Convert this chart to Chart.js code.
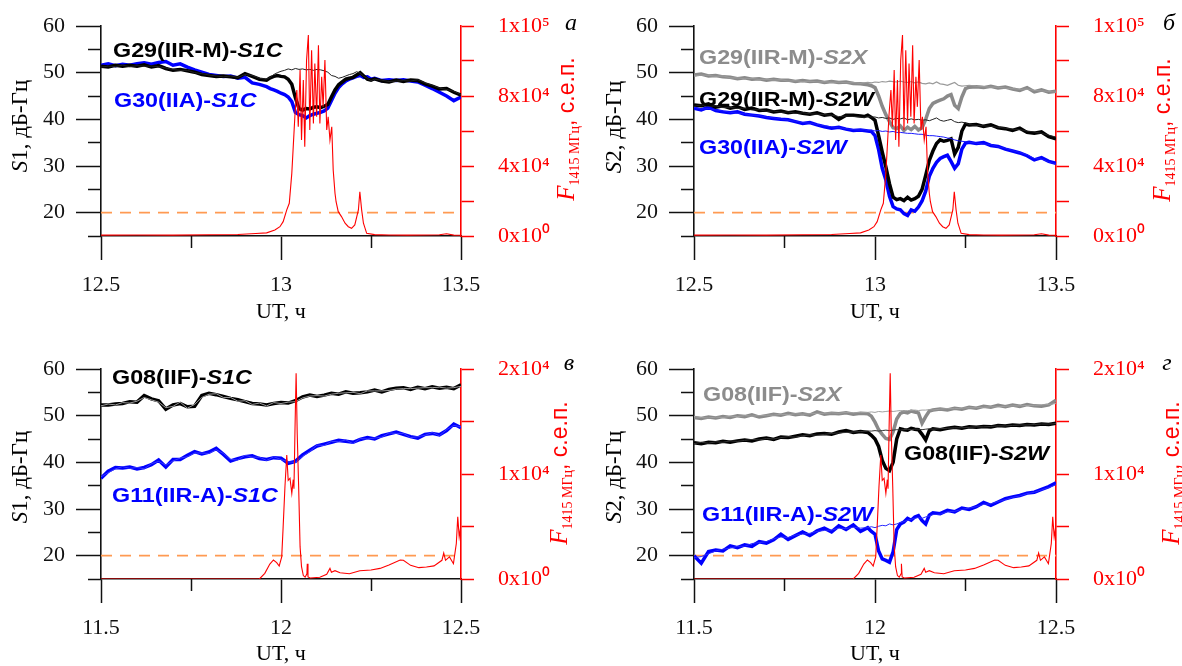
<!DOCTYPE html>
<html>
<head>
<meta charset="utf-8">
<script src="https://cdn.jsdelivr.net/npm/chart.js@4.4.0/dist/chart.umd.min.js"></script>
<style>
  html, body { margin: 0; padding: 0; background: #fff; }
  body { width: 1182px; height: 666px; position: relative; overflow: hidden; font-family: 'Liberation Serif', 'Times New Roman', serif; }
  canvas { position: absolute; }
  .t { position: absolute; white-space: nowrap; line-height: 1; }
  .ctr { transform: translate(-50%, -50%); font-size: 22px; color: #000; }
  .rot { transform: translate(-50%, -50%) rotate(-90deg); font-size: 23px; }
  .red { color: #ff0000; }
  .sans { font-family: 'Liberation Sans', Arial, sans-serif; }
  .sub { font-size: 14px; vertical-align: -5px; }
  .letter { font-style: italic; font-size: 24px; transform: translate(-50%, -50%); }
  .lbl { font: bold 21px 'Liberation Sans', Arial, sans-serif; transform-origin: 0 50%; transform: translateY(-50%) scaleX(1.11); }
  .blue { color: #0000ff; }
  .gray { color: #8c8c8c; }
</style>
</head>
<body>
<canvas id="pa" width="591" height="333" style="left:0;top:0"></canvas>
<canvas id="pb" width="591" height="333" style="left:591px;top:0"></canvas>
<canvas id="pc" width="591" height="333" style="left:0;top:333px"></canvas>
<canvas id="pd" width="591" height="333" style="left:591px;top:333px"></canvas>

<!-- panel a -->
<div class="t rot" style="left:19px;top:126px"><i>S</i>1, дБ-Гц</div>
<div class="t ctr" style="left:281px;top:311px">UT, ч</div>
<div class="t rot red" style="left:567px;top:129px"><i style="font-size:25px">F</i><span class="sub">1415 МГц</span><span class="sans">, с.е.п.</span></div>
<div class="t letter" style="left:571px;top:22px">а</div>
<div class="t lbl" style="left:113px;top:50px">G29(IIR-M)-<i>S1C</i></div>
<div class="t lbl blue" style="left:114px;top:100px">G30(IIA)-<i>S1C</i></div>

<!-- panel b -->
<div class="t rot" style="left:613px;top:127px"><i>S</i>2, дБ-Гц</div>
<div class="t ctr" style="left:875px;top:311px">UT, ч</div>
<div class="t rot red" style="left:1163px;top:130px"><i style="font-size:25px">F</i><span class="sub">1415 МГц</span><span class="sans">, с.е.п.</span></div>
<div class="t letter" style="left:1169px;top:22px">б</div>
<div class="t lbl gray" style="left:699px;top:57px">G29(IIR-M)-<i>S2X</i></div>
<div class="t lbl" style="left:699px;top:99px">G29(IIR-M)-<i>S2W</i></div>
<div class="t lbl blue" style="left:699px;top:147px">G30(IIA)-<i>S2W</i></div>

<!-- panel c -->
<div class="t rot" style="left:19px;top:477px"><i>S</i>1, дБ-Гц</div>
<div class="t ctr" style="left:281px;top:653px">UT, ч</div>
<div class="t rot red" style="left:560px;top:473px"><i style="font-size:25px">F</i><span class="sub">1415 МГц</span><span class="sans">, с.е.п.</span></div>
<div class="t letter" style="left:569px;top:362px">в</div>
<div class="t lbl" style="left:112px;top:377px">G08(IIF)-<i>S1C</i></div>
<div class="t lbl blue" style="left:112px;top:495px">G11(IIR-A)-<i>S1C</i></div>

<!-- panel d -->
<div class="t rot" style="left:613px;top:477px"><i>S</i>2, дБ-Гц</div>
<div class="t ctr" style="left:875px;top:653px">UT, ч</div>
<div class="t rot red" style="left:1172px;top:473px"><i style="font-size:25px">F</i><span class="sub">1415 МГц</span><span class="sans">, с.е.п.</span></div>
<div class="t letter" style="left:1167px;top:362px">г</div>
<div class="t lbl gray" style="left:703px;top:394px">G08(IIF)-<i>S2X</i></div>
<div class="t lbl" style="left:904px;top:453px">G08(IIF)-<i>S2W</i></div>
<div class="t lbl blue" style="left:702px;top:514px">G11(IIR-A)-<i>S2W</i></div>

<script>
// axis ticks
const yRange = [15, 60];
const yMajorTicks = [20, 30, 40, 50, 60];
const yMinorTicks = [15, 25, 35, 45, 55];
const xRangeAB = [12.5, 13.5];
const xMajorAB = [12.5, 13, 13.5];
const xMinorAB = [12.75, 13.25];
const xRangeCD = [11.5, 12.5];
const xMajorCD = [11.5, 12, 12.5];
const xMinorCD = [11.75, 12.25];
const fluxTicksAB = [0, 20000, 40000, 60000, 80000, 100000, 120000];
const fluxLabelsAB = ['0x10⁰', '', '4x10⁴', '', '8x10⁴', '', '1x10⁵'];
const fluxTicksCD = [0, 5000, 10000, 15000, 20000];
const fluxLabelsCD = ['0x10⁰', '', '1x10⁴', '', '2x10⁴'];
const thresholdLevel = 20;

// time grid, panels a and b (UT, h)
const timesAB = [12.50, 12.52, 12.54, 12.56, 12.58, 12.60, 12.62, 12.64, 12.66, 12.68, 12.70, 12.72, 12.74, 12.76, 12.78, 12.80, 12.82, 12.84, 12.86, 12.88, 12.90, 12.92, 12.94, 12.96,
  12.97, 12.98, 12.99, 13.00, 13.01, 13.02, 13.03, 13.04, 13.05, 13.06, 13.07, 13.08, 13.09, 13.10, 13.11, 13.12, 13.13, 13.14, 13.15, 13.16, 13.17, 13.18, 13.19, 13.20, 13.21, 13.22, 13.23, 13.24, 13.25, 13.26,
  13.28, 13.30, 13.32, 13.34, 13.36, 13.38, 13.40, 13.42, 13.44, 13.46, 13.48, 13.50];

// panel a: S1C
const s1cG29 = [51.4, 51.2, 51.6, 51.4, 51.6, 51.4, 51.7, 51.2, 51.5, 50.9, 50.5, 50.7, 50.4, 50.1, 49.6, 49.4, 49.2, 49.3, 49.1, 48.9, 49.8, 49.2, 48.6, 48.4,
  48.9, 49.2, 49.4, 49.2, 49.1, 48.6, 47.5, 44.6, 42.3, 42.0, 42.3, 42.2, 42.6, 42.7, 42.5, 42.8, 43.2, 44.8, 46.3, 47.4, 48.0, 48.6, 48.8, 49.0, 49.5, 50.0, 49.3, 48.6, 48.4, 48.7,
  48.2, 48.0, 48.4, 48.1, 48.4, 48.3, 47.6, 47.1, 46.5, 46.6, 45.8, 45.2];
const s1cG29ref = [51.2, 51.4, 51.3, 51.6, 51.3, 51.5, 51.4, 51.4, 51.3, 51.0, 50.7, 50.5, 50.5, 50.0, 49.8, 49.5, 49.3, 49.1, 49.3, 49.0, 49.6, 49.4, 48.8, 48.6,
  49.0, 49.6, 50.0, 50.3, 50.5, 50.8, 50.6, 50.9, 50.7, 50.8, 50.6, 50.7, 50.5, 50.7, 50.6, 50.4, 50.1, 49.4, 49.2, 48.8, 49.0, 49.3, 49.6, 49.8, 50.2, 49.9, 49.2, 48.8, 48.3, 48.6,
  48.4, 48.1, 48.2, 48.3, 48.2, 48.5, 47.8, 47.3, 46.7, 46.4, 46.0, 45.3];
const s1cG30 = [51.6, 51.9, 51.5, 51.8, 51.6, 51.9, 52.1, 51.8, 52.2, 52.4, 51.6, 51.9, 51.2, 50.6, 50.1, 49.6, 49.4, 49.2, 49.3, 48.8, 49.0, 47.8, 47.5, 47.0,
  46.6, 46.3, 46.0, 45.6, 45.3, 44.8, 43.8, 41.5, 41.0, 40.8, 40.3, 40.8, 41.1, 41.3, 41.5, 41.8, 42.4, 44.0, 45.6, 46.8, 47.6, 48.2, 48.6, 48.9, 49.2, 49.4, 49.0, 49.1, 48.6, 48.8,
  48.3, 48.5, 48.3, 48.5, 48.2, 48.0, 47.3, 46.6, 45.8, 45.0, 44.0, 44.8];

// panel b: S2X / S2W
const s2xG29 = [49.5, 49.7, 49.3, 49.4, 49.1, 49.0, 48.7, 48.9, 48.6, 48.7, 48.4, 48.6, 48.4, 48.4, 48.1, 48.3, 48.1, 48.2, 47.9, 48.1, 47.9, 48.0, 47.7, 47.6,
  47.5, 47.4, 47.2, 46.8, 45.0, 42.8, 41.0, 39.5, 38.2, 38.0, 38.6, 37.6, 38.3, 37.8, 38.5, 37.7, 38.2, 40.0, 42.3, 43.4, 43.8, 44.1, 44.4, 45.0, 45.3, 43.0, 42.3, 44.8, 46.6, 46.9,
  47.0, 46.8, 47.1, 46.7, 46.9, 46.5, 46.2, 46.8, 45.9, 46.3, 45.8, 46.0];
const s2xG29ref = [49.3, 49.5, 49.4, 49.2, 49.3, 48.9, 48.9, 48.7, 48.8, 48.5, 48.6, 48.4, 48.5, 48.2, 48.3, 48.1, 48.2, 48.0, 48.1, 47.9, 48.0, 47.8, 47.9, 47.7,
  47.8, 47.9, 47.8, 48.0, 47.9, 48.1, 48.0, 48.2, 48.1, 48.0, 48.2, 48.0, 47.9, 48.1, 47.8, 48.0, 47.7, 47.6, 47.8, 47.6, 48.0, 47.6, 47.5, 47.3, 47.6, 47.9, 47.3, 47.1, 47.2, 47.3,
  47.1, 47.0, 46.9, 46.9, 46.7, 46.6, 46.4, 46.5, 46.2, 46.1, 46.0, 45.8];
const s2wG29 = [43.1, 42.9, 43.3, 42.6, 42.9, 42.4, 42.7, 42.1, 42.4, 41.9, 42.0, 41.6, 41.8, 41.4, 41.6, 41.3, 41.1, 41.4, 40.9, 41.1, 40.0, 40.9, 40.9, 40.7,
  40.6, 40.9, 40.4, 39.8, 36.5, 33.0, 29.8, 26.2, 23.3, 22.8, 23.0, 22.6, 23.3, 22.7, 23.0, 23.5, 25.0, 28.0, 31.2, 33.2, 34.8, 35.6, 35.3, 35.5, 35.8, 32.6, 34.0, 37.5, 39.0, 38.8,
  38.9, 38.5, 38.8, 38.2, 38.0, 37.6, 38.1, 37.2, 37.0, 37.3, 36.3, 35.8];
const s2wG29ref = [42.8, 43.1, 42.8, 42.9, 42.5, 42.6, 42.3, 42.4, 42.0, 42.1, 41.7, 41.8, 41.5, 41.6, 41.3, 41.4, 41.2, 41.1, 41.0, 40.9, 40.6, 40.7, 40.6, 40.5,
  40.4, 40.6, 40.5, 40.5, 40.3, 40.4, 40.2, 40.3, 40.0, 40.2, 40.1, 40.3, 39.9, 40.1, 39.9, 40.0, 39.8, 39.9, 39.7, 40.0, 40.3, 39.8, 39.6, 39.8, 40.0, 39.5, 39.3, 39.4, 39.2, 38.9,
  38.7, 38.6, 38.5, 38.3, 38.1, 37.9, 37.8, 37.5, 37.3, 37.0, 36.6, 36.2];
const s2wG30 = [42.4, 42.0, 42.6, 41.9, 41.6, 41.4, 41.6, 41.1, 40.9, 40.7, 40.4, 40.2, 40.0, 39.9, 39.5, 39.1, 39.3, 38.8, 38.4, 38.1, 38.3, 37.9, 37.6, 37.7,
  37.6, 37.5, 37.4, 36.5, 33.5, 29.5, 27.0, 23.5, 21.3, 20.8, 20.6, 19.8, 19.4, 20.6, 20.3, 21.2, 22.5, 24.6, 27.8, 29.5, 30.8, 31.6, 32.0, 32.3, 31.0, 29.5, 30.5, 33.6, 34.9, 35.1,
  34.8, 35.0, 34.4, 34.2, 33.6, 33.2, 32.8, 32.2, 31.3, 31.8, 31.0, 30.6];
const s2wG30ref = [42.6, 42.2, 42.3, 42.0, 41.8, 41.5, 41.3, 41.2, 40.9, 40.8, 40.5, 40.3, 40.1, 39.8, 39.6, 39.3, 39.2, 38.9, 38.6, 38.4, 38.2, 38.0, 37.8, 37.7,
  37.8, 37.6, 37.7, 37.5, 37.6, 37.4, 37.5, 37.3, 37.4, 37.2, 37.2, 37.1, 37.0, 37.0, 36.9, 36.8, 36.8, 36.6, 36.5, 36.5, 36.4, 36.3, 36.2, 36.0, 35.9, 35.6, 35.4, 35.3, 35.2, 35.1,
  34.9, 34.7, 34.6, 34.1, 33.8, 33.3, 32.9, 32.4, 31.6, 31.5, 30.9, 30.4];

// radio flux 1415 MHz, panels a and b
const fluxTimesAB = [12.50, 12.60, 12.70, 12.80, 12.88, 12.93, 12.96, 12.983, 12.997, 13.006, 13.016, 13.023, 13.030, 13.034, 13.039, 13.044,
  13.048, 13.053, 13.057, 13.062, 13.066, 13.071, 13.076, 13.080, 13.085, 13.090, 13.094, 13.099, 13.104, 13.108, 13.113, 13.117,
  13.122, 13.127, 13.131, 13.136, 13.141, 13.145, 13.150, 13.153, 13.159, 13.168, 13.178, 13.187, 13.196, 13.205, 13.215, 13.219,
  13.224, 13.229, 13.238, 13.26, 13.30, 13.35, 13.40, 13.44, 13.46, 13.48, 13.50];
const fluxAB = [500, 600, 500, 700, 900, 1400, 1800, 3400, 5300, 8200, 14900, 18700, 35800, 51000, 70100, 83400,
  62400, 94800, 54800, 89100, 51000, 100500, 114800, 60600, 106200, 64300, 98600, 68100, 109000, 64300, 91000, 73800,
  100500, 60600, 68100, 54800, 62400, 37700, 24400, 19600, 13900, 11100, 7300, 5300, 4400, 6300, 14900, 25300,
  14900, 7300, 1500, 800, 600, 500, 600, 700, 1300, 500, 400];

// time grid, panel c
const timesC = [11.50, 11.52, 11.54, 11.56, 11.58, 11.60, 11.62, 11.64, 11.66, 11.68, 11.70, 11.72, 11.74, 11.76, 11.78, 11.80, 11.82, 11.84, 11.86, 11.88,
  11.90, 11.92, 11.94, 11.96, 11.98, 12.00, 12.02, 12.04, 12.06, 12.08, 12.10, 12.12, 12.14, 12.16, 12.18, 12.20, 12.22, 12.24, 12.26, 12.28,
  12.30, 12.32, 12.34, 12.36, 12.38, 12.40, 12.42, 12.44, 12.46, 12.48, 12.50];
const s1cG08 = [52.3, 52.3, 52.5, 52.6, 53.0, 52.9, 54.3, 53.6, 53.2, 51.4, 52.3, 52.6, 51.9, 52.0, 54.3, 54.8, 54.5, 54.1, 53.7, 53.4,
  53.0, 52.6, 52.5, 52.3, 52.6, 52.8, 52.7, 53.2, 54.0, 54.4, 54.1, 54.4, 54.8, 54.6, 55.1, 54.8, 54.9, 55.1, 55.5, 55.1,
  55.6, 55.9, 56.0, 55.6, 56.1, 55.8, 56.2, 55.9, 56.1, 55.8, 56.6];
const s1cG08ref = [52.1, 52.5, 52.3, 52.8, 52.7, 53.1, 53.9, 53.4, 52.9, 51.7, 52.0, 52.9, 51.6, 52.4, 53.9, 54.6, 54.7, 53.9, 53.9, 53.1,
  53.2, 52.4, 52.7, 52.1, 52.8, 52.6, 52.9, 53.0, 53.8, 54.2, 54.3, 54.2, 54.6, 54.8, 54.9, 55.0, 54.7, 55.3, 55.3, 55.3,
  55.4, 55.7, 55.8, 55.8, 55.9, 56.0, 56.0, 56.1, 55.9, 56.0, 56.3];
const s1cG11 = [36.6, 38.1, 38.9, 38.8, 39.0, 38.6, 38.9, 39.5, 40.5, 39.0, 40.6, 40.6, 41.5, 42.3, 41.8, 42.2, 43.0, 41.7, 40.3, 40.8,
  41.2, 41.4, 40.8, 40.6, 41.0, 40.9, 39.8, 40.2, 41.6, 42.6, 43.5, 43.9, 44.3, 44.7, 44.5, 44.3, 44.9, 45.3, 45.0, 45.7,
  46.1, 46.5, 46.0, 45.5, 45.2, 46.0, 46.2, 45.9, 46.8, 48.2, 47.4];
const s1cG11ref = [36.9, 37.8, 38.6, 39.1, 38.7, 38.9, 38.6, 39.7, 40.2, 39.4, 40.3, 40.9, 41.2, 42.0, 42.0, 41.9, 42.7, 41.9, 40.6, 40.5,
  41.5, 41.1, 41.1, 40.4, 41.2, 40.6, 40.1, 40.0, 41.3, 42.3, 43.7, 43.6, 44.5, 44.4, 44.8, 44.0, 45.1, 45.0, 45.2, 45.4,
  46.3, 46.2, 46.2, 45.3, 45.5, 45.8, 46.4, 45.7, 47.0, 47.9, 47.6];

// time grid, panel d
const timesD = [11.50, 11.52, 11.54, 11.56, 11.58, 11.60, 11.62, 11.64, 11.66, 11.68, 11.70, 11.72, 11.74, 11.76, 11.78, 11.80, 11.82, 11.84, 11.86, 11.88,
  11.90, 11.92, 11.94, 11.96, 11.98,
  11.99, 12.00, 12.01, 12.02, 12.03, 12.04, 12.05, 12.06, 12.07, 12.08, 12.09, 12.10, 12.11, 12.12, 12.13, 12.14, 12.15, 12.16,
  12.18, 12.20, 12.22, 12.24, 12.26, 12.28, 12.30, 12.32, 12.34, 12.36, 12.38, 12.40, 12.42, 12.44, 12.46, 12.48, 12.50];
const s2xG08 = [49.6, 49.4, 49.7, 49.5, 49.8, 49.6, 50.0, 49.8, 50.2, 49.7, 50.0, 50.3, 50.1, 50.5, 50.2, 50.4, 50.1, 50.8, 50.3, 50.5,
  50.4, 50.6, 50.3, 50.5, 50.4,
  49.9, 48.6, 47.0, 46.0, 45.1, 44.9, 46.5, 49.3, 50.5, 50.8, 50.6, 51.0, 50.8, 50.6, 48.4, 49.8, 51.0, 51.2,
  51.4, 51.2, 51.6, 51.4, 51.8, 51.6, 52.0, 51.8, 52.2, 51.9, 52.3, 52.0, 52.4, 52.1, 52.0, 52.3, 53.3];
const s2xG08ref = [49.8, 49.6, 49.5, 49.7, 49.6, 49.9, 49.8, 50.0, 49.9, 50.0, 50.1, 50.1, 50.3, 50.2, 50.4, 50.3, 50.4, 50.5, 50.5, 50.6,
  50.5, 50.7, 50.6, 50.7, 50.7,
  50.8, 50.7, 50.9, 50.8, 50.9, 51.0, 50.9, 51.0, 51.1, 51.0, 51.1, 51.1, 51.2, 51.1, 51.2, 51.2, 51.3, 51.2,
  51.4, 51.5, 51.5, 51.6, 51.7, 51.7, 51.8, 51.9, 51.9, 52.0, 52.1, 52.1, 52.2, 52.2, 52.3, 52.4, 52.6];
const s2wG08 = [44.2, 44.0, 44.3, 44.2, 44.5, 44.3, 44.6, 44.8, 44.6, 45.0, 45.2, 44.9, 45.4, 45.3, 45.6, 45.9, 45.7, 46.1, 46.2, 46.0,
  46.5, 46.8, 46.4, 46.6, 46.4,
  45.8, 45.0, 43.4, 40.4, 38.7, 38.2, 40.0, 45.0, 47.2, 47.0, 46.9, 47.3, 47.1, 47.0, 46.0, 44.8, 46.8, 47.2,
  47.0, 47.3, 47.5, 47.3, 47.6, 47.5, 47.7, 47.6, 47.9, 47.8, 48.0, 47.9, 48.1, 48.0, 48.2, 48.1, 48.4];
const s2wG08ref = [44.0, 44.3, 44.1, 44.4, 44.3, 44.6, 44.5, 44.7, 44.9, 44.8, 45.1, 45.0, 45.3, 45.5, 45.4, 45.7, 45.9, 45.8, 46.0, 46.2,
  46.3, 46.4, 46.5, 46.6, 46.7,
  46.7, 46.8, 46.7, 46.8, 46.9, 46.8, 46.9, 47.0, 46.9, 47.0, 47.1, 47.0, 47.1, 47.1, 47.0, 47.1, 47.2, 47.1,
  47.2, 47.3, 47.4, 47.4, 47.5, 47.6, 47.6, 47.7, 47.8, 47.8, 47.9, 48.0, 48.0, 48.1, 48.2, 48.2, 48.3];
const s2wG11 = [20.0, 18.4, 20.9, 21.2, 21.0, 22.1, 21.7, 22.3, 22.0, 23.0, 22.7, 23.4, 24.6, 23.5, 24.3, 25.1, 24.3, 25.3, 25.9, 25.1,
  26.4, 25.6, 26.6, 25.2, 26.0,
  25.2, 24.6, 21.0, 19.3, 19.0, 18.6, 20.8, 25.6, 26.8, 27.2, 28.0, 27.6, 28.3, 28.6, 27.5, 26.8, 28.7, 29.2,
  29.0, 29.7, 29.4, 30.2, 29.9, 30.5, 31.4, 30.8, 31.5, 32.2, 32.6, 32.9, 33.4, 33.6, 34.2, 34.8, 35.6];
const s2wG11ref = [19.6, 19.8, 20.4, 21.0, 21.4, 21.6, 22.0, 22.0, 22.6, 22.8, 23.0, 23.6, 24.0, 23.9, 24.4, 24.6, 24.8, 25.2, 25.4, 25.5,
  25.9, 25.8, 26.1, 25.9, 26.0,
  26.2, 26.0, 26.3, 26.5, 26.4, 26.8, 26.6, 26.8, 27.1, 27.3, 27.6, 27.8, 28.0, 28.2, 28.0, 28.3, 28.5, 28.8,
  28.9, 29.4, 29.5, 29.9, 30.2, 30.5, 31.0, 31.1, 31.6, 32.0, 32.5, 32.8, 33.3, 33.6, 34.1, 34.6, 35.2];

// radio flux 1415 MHz, panels c and d
const fluxTimesCD = [11.50, 11.94, 11.955, 11.969, 11.979, 11.988, 11.995, 12.002, 12.006, 12.011, 12.016, 12.020, 12.025, 12.030, 12.034, 12.036,
  12.039, 12.042, 12.045, 12.049, 12.053, 12.057, 12.062, 12.067, 12.072, 12.073, 12.075, 12.081, 12.108, 12.127, 12.136, 12.140,
  12.150, 12.164, 12.19, 12.219, 12.25, 12.275, 12.30, 12.331, 12.34, 12.36, 12.383, 12.404, 12.425, 12.447, 12.452, 12.457,
  12.468, 12.479, 12.487, 12.491, 12.495, 12.50];
const fluxCD = [0, 0, 540, 1420, 1810, 1560, 1240, 2100, 4990, 8800, 11800, 9400, 9600, 8160, 9460, 8600,
  14500, 19590, 13900, 8800, 3080, 1170, 330, 170, 500, 1460, 200, 100, 170, 450, 1010, 650,
  790, 600, 500, 790, 850, 1010, 1330, 1810, 1780, 1300, 1080, 1150, 1250, 1780, 2480, 1780,
  2100, 1460, 3380, 5920, 4010, 5130];

const serif = 'Times New Roman, Liberation Serif, serif';
Chart.defaults.font.family = serif;

function series(times, vals, color, width, order, axisId) {
  return {
    data: times.map((t, i) => ({ x: t, y: vals[i] })),
    borderColor: color, borderWidth: width, pointRadius: 0, tension: 0,
    yAxisID: axisId || 'y', xAxisID: 'x', order: order
  };
}

function threshold(range) {
  return {
    data: [{ x: range[0], y: thresholdLevel }, { x: range[1], y: thresholdLevel }],
    borderColor: '#ff9a52', borderWidth: 1.6, borderDash: [11, 8], pointRadius: 0,
    yAxisID: 'y', xAxisID: 'x', order: 9
  };
}

// size = box width (vertical axes) or height (horizontal); minor axes get 0 and sit next to the plot
function axis(position, range, ticks, tickLen, pad, color, labelFn, size, weight) {
  return {
    type: 'linear', position: position, min: range[0], max: range[1], weight: weight,
    afterBuildTicks: s => { s.ticks = ticks.map(v => ({ value: v })); },
    afterFit: s => {
      if (s.isHorizontal()) s.height = size; else s.width = size;
      s.paddingLeft = s.paddingRight = s.paddingTop = s.paddingBottom = 0;
    },
    grid: { drawOnChartArea: false, tickLength: tickLen, tickColor: color, tickWidth: 1.5 },
    border: { display: size > 0, color: color, width: 1.6 },
    ticks: { color: color, padding: pad, autoSkip: false, maxRotation: 0, font: { family: serif, size: 22, style: 'normal' }, callback: labelFn }
  };
}

const noLabel = () => '';
const numLabel = v => String(v);

function panel(id, box, xRange, xMajor, xMinor, fluxTicks, fluxLabels, datasets) {
  new Chart(document.getElementById(id), {
    type: 'line',
    data: { datasets: datasets },
    options: {
      responsive: false, animation: false, devicePixelRatio: 1,
      layout: { padding: { top: box.top, left: 0, right: 0, bottom: 0 } },
      plugins: { legend: { display: false }, tooltip: { enabled: false } },
      scales: {
        x: axis('bottom', xRange, xMajor, 24, 12, '#111', numLabel, box.bottom, 1),
        xm: axis('bottom', xRange, xMinor, 12, 0, '#111', noLabel, 0, 0),
        y: axis('left', yRange, yMajorTicks, 25, 11, '#111', numLabel, box.left, 1),
        ym: axis('left', yRange, yMinorTicks, 13, 0, '#111', noLabel, 0, 0),
        yr: axis('right', [fluxTicks[0], fluxTicks[fluxTicks.length - 1]], fluxTicks, 13, 24, '#ff0000', (v, i) => fluxLabels[i], box.right, 1)
      }
    }
  });
}

const boxA = { left: 101, right: 130, top: 26, bottom: 97 };
const boxB = { left: 103, right: 126, top: 26, bottom: 97 };
const boxC = { left: 101, right: 130, top: 36, bottom: 87 };
const boxD = { left: 103, right: 126, top: 36, bottom: 87 };

panel('pa', boxA, xRangeAB, xMajorAB, xMinorAB, fluxTicksAB, fluxLabelsAB, [
  series(fluxTimesAB, fluxAB, '#ff0000', 1.1, 0, 'yr'),
  series(timesAB, s1cG29ref, '#222222', 1, 1),
  series(timesAB, s1cG29, '#000000', 3.5, 2),
  series(timesAB, s1cG30, '#0000ff', 3.5, 3),
  threshold(xRangeAB)
]);

panel('pb', boxB, xRangeAB, xMajorAB, xMinorAB, fluxTicksAB, fluxLabelsAB, [
  series(fluxTimesAB, fluxAB, '#ff0000', 1.1, 0, 'yr'),
  series(timesAB, s2xG29ref, '#9a9a9a', 1.2, 1),
  series(timesAB, s2wG29ref, '#222222', 1, 1),
  series(timesAB, s2wG30ref, '#1a1aff', 1, 1),
  series(timesAB, s2wG29, '#000000', 3.5, 2),
  series(timesAB, s2wG30, '#0000ff', 3.5, 3),
  series(timesAB, s2xG29, '#8a8a8a', 3.5, 4),
  threshold(xRangeAB)
]);

panel('pc', boxC, xRangeCD, xMajorCD, xMinorCD, fluxTicksCD, fluxLabelsCD, [
  series(fluxTimesCD, fluxCD, '#ff0000', 1.1, 0, 'yr'),
  series(timesC, s1cG08ref, '#9a9a9a', 1, 1),
  series(timesC, s1cG11ref, '#3a3aff', 1, 1),
  series(timesC, s1cG08, '#000000', 3.5, 2),
  series(timesC, s1cG11, '#0000ff', 3.5, 3),
  threshold(xRangeCD)
]);

panel('pd', boxD, xRangeCD, xMajorCD, xMinorCD, fluxTicksCD, fluxLabelsCD, [
  series(fluxTimesCD, fluxCD, '#ff0000', 1.1, 0, 'yr'),
  series(timesD, s2xG08ref, '#a0a0a0', 1, 1),
  series(timesD, s2wG08ref, '#333333', 1, 1),
  series(timesD, s2wG11ref, '#2a2aff', 1, 1),
  series(timesD, s2wG08, '#000000', 3.5, 2),
  series(timesD, s2wG11, '#0000ff', 3.5, 3),
  series(timesD, s2xG08, '#8a8a8a', 3.5, 4),
  threshold(xRangeCD)
]);
</script>
</body>
</html>
